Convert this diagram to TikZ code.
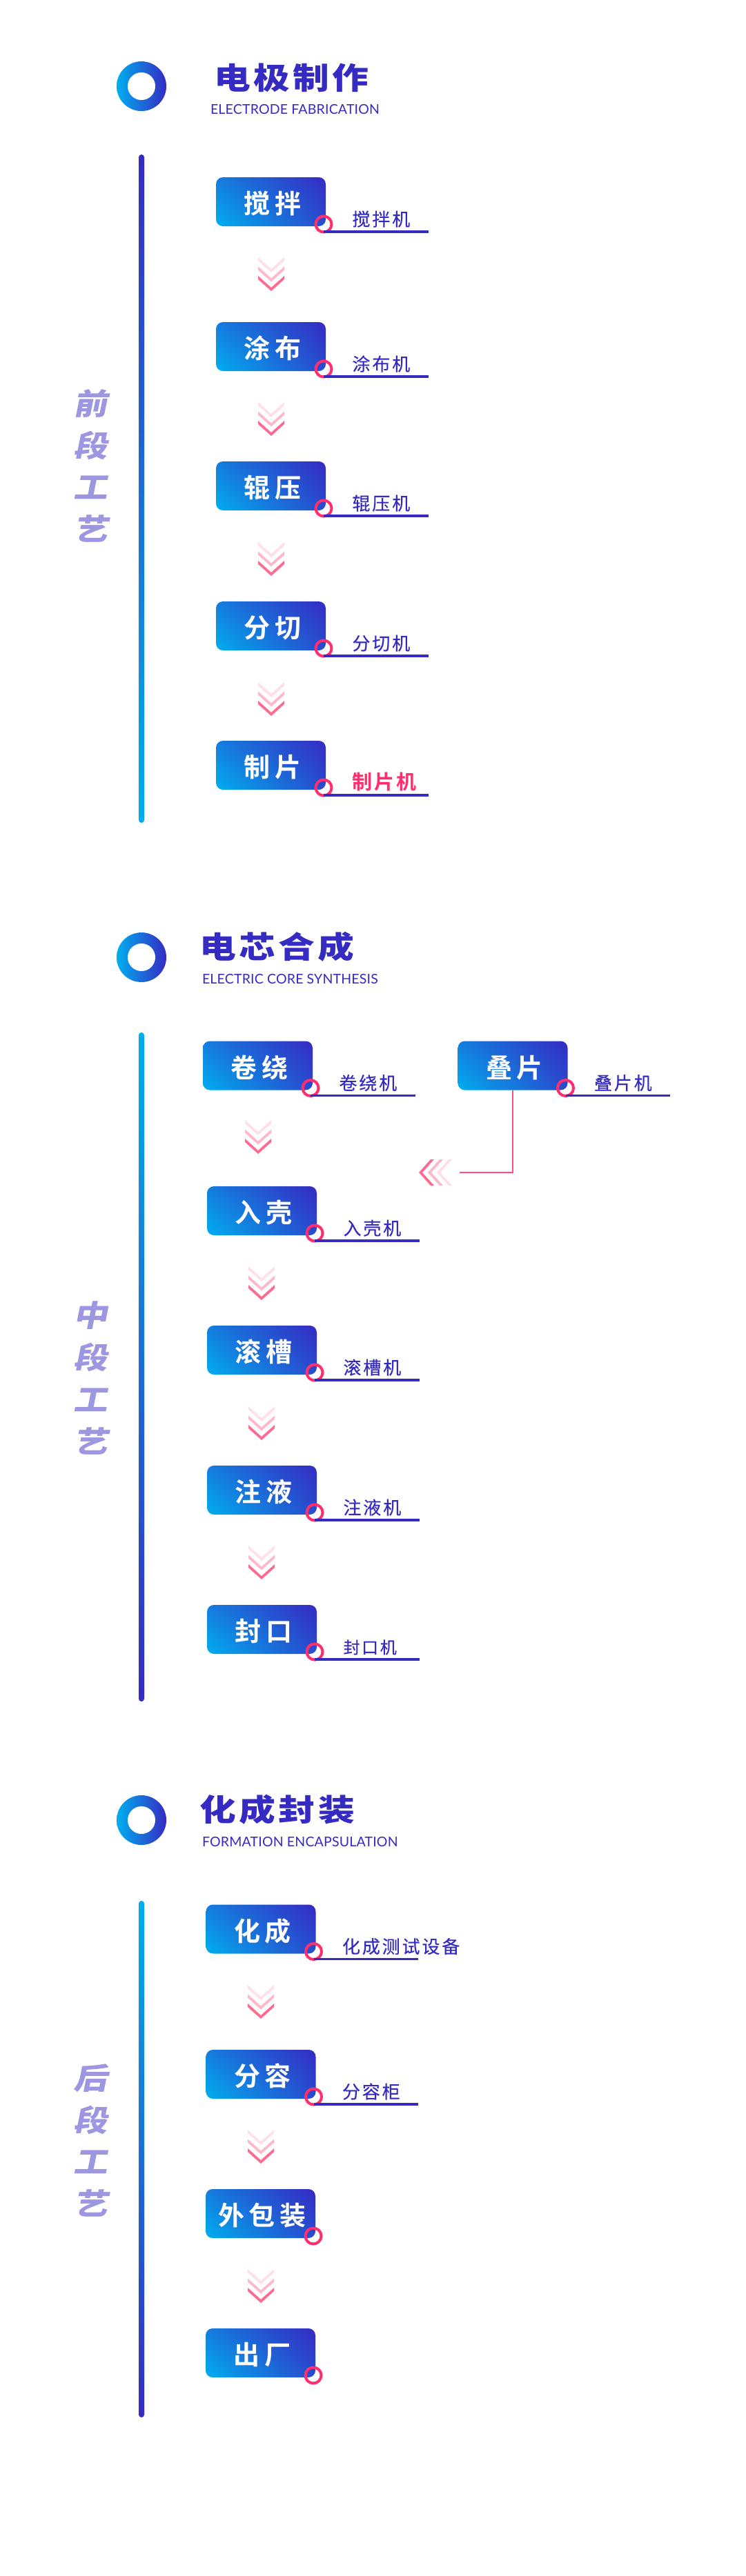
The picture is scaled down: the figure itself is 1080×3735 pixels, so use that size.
\documentclass[tikz,border=0pt]{standalone}
\usetikzlibrary{shadings}
\usepackage{fontspec}
\setmainfont{Noto Sans CJK SC}
\newfontfamily\heavyf[FakeStretch=1.2,LetterSpace=10]{Noto Sans CJK SC Black}
\newfontfamily\sidef[FakeStretch=1.15,FakeSlant=0.2]{Noto Sans CJK SC Black}
\newfontfamily\boxf[LetterSpace=16]{Noto Sans CJK SC Bold}
\newfontfamily\labf[LetterSpace=11,FakeBold=0.3]{Noto Sans CJK SC}
\newfontfamily\labbf[LetterSpace=11]{Noto Sans CJK SC Bold}
\newfontfamily\enf[LetterSpace=1]{Lato}
\definecolor{deep}{HTML}{352BC3}
\definecolor{sky}{HTML}{00AEEF}
\definecolor{pinkk}{HTML}{FF2E6C}
\definecolor{sidec}{HTML}{9D96E0}
\definecolor{ch1}{HTML}{FF6A90}
\definecolor{ch2}{HTML}{FFB8CA}
\definecolor{ch3}{HTML}{FFE0E8}
\tikzset{
  pagebox/.style={fill=white,draw=none},
  outerring/.style={circle,minimum size=72pt,inner sep=0pt,outer sep=0pt,left color=sky,right color=deep},
  innerhole/.style={circle,minimum size=40pt,inner sep=0pt,outer sep=0pt,fill=white},
  titletext/.style={anchor=west,inner sep=0pt,outer sep=0pt,text height=39pt,text depth=5pt,text=deep,font=\heavyf\fontsize{44}{50}\selectfont},
  entext/.style={anchor=west,inner sep=0pt,outer sep=0pt,text height=14pt,text depth=0pt,text=deep,font=\enf\fontsize{19.5}{22}\selectfont},
  sidetext/.style={align=center,inner sep=0pt,outer sep=0pt,text=sidec,font=\sidef\fontsize{43}{60.8}\selectfont},
  procbox/.style={rectangle,rounded corners=10pt,minimum width=159pt,minimum height=71pt,inner sep=0pt,outer sep=0pt,
    text=white,text height=39pt,text depth=5pt,font=\boxf\fontsize{38}{44}\selectfont,
    lower left=sky,upper right=deep,upper left=sky!62!deep,lower right=sky!25!deep},
  pinring/.style={circle,draw=pinkk,line width=4pt,minimum size=23pt,inner sep=0pt,outer sep=0pt},
  labeltext/.style={anchor=west,inner sep=0pt,outer sep=0pt,text=deep,text height=22pt,text depth=3pt,font=\labf\fontsize{26}{30}\selectfont},
  labelsmall/.style={labeltext,font=\labf\fontsize{24}{30}\selectfont},
  labelhot/.style={labeltext,text=pinkk,font=\labbf\fontsize{29}{30}\selectfont},
  underl/.style={draw=deep,line width=3.5pt},
  sideline/.style={draw=pinkk!85!white,line width=2pt},
  bardown/.style={rounded corners=4pt,top color=deep,bottom color=sky},
  barup/.style={rounded corners=4pt,top color=sky,bottom color=deep},
}
% id, cx, cy, text
\newcommand{\procbare}[4]{%
  \node[procbox] (#1) at (#2,#3) {#4\kern-5pt};
  \node[pinring] (#1r) at ([xshift=-3pt,yshift=3pt]#1.south east) {};
}
% id, cx, cy, text, label, label style
\newcommand{\proclab}[6]{%
  \procbare{#1}{#2}{#3}{#4}
  \coordinate (#1e) at ([xshift=148.5pt,yshift=-8pt]#1.south east);
  \draw[underl] (#1r.center |- #1e) -- (#1e);
  \node[#6] (#1l) at ([xshift=38.5pt,yshift=10pt]#1.south east) {#5};
}
% cx, tip y
\newcommand{\chevdown}[2]{%
  \foreach \off/\col in {27/ch3,13.5/ch2,0/ch1}{
    \fill[\col] (#1-19,#2-\off-22) -- (#1,#2-\off-5) -- (#1+19,#2-\off-22) -- (#1+19,#2-\off-17) -- (#1,#2-\off) -- (#1-19,#2-\off-17) -- cycle;
  }
}
\begin{document}
\begin{tikzpicture}[x=1pt,y=-1pt]
\useasboundingbox (0,0) rectangle (1080,3735);
\fill[pagebox] (0,0) rectangle (1080,3735);

% ---------- section 1
\node[outerring] (ring1) at (205,125) {};
\node[innerhole] (hole1) at (ring1) {};
\node[titletext] (title1) at (310,112) {电极制作};
\node[entext] (en1) at (305,158) {ELECTRODE FABRICATION};
\shade[bardown] (201,224) rectangle (209,1193);
\node[sidetext] (side1) at (131.5,675.5) {前\\段\\工\\艺};
\proclab{a}{392.5}{292.5}{搅拌}{搅拌机}{labeltext}
\proclab{b}{392.5}{502.5}{涂布}{涂布机}{labeltext}
\proclab{c}{392.5}{704.5}{辊压}{辊压机}{labeltext}
\proclab{d}{392.5}{907.5}{分切}{分切机}{labeltext}
\proclab{e}{392.5}{1109.5}{制片}{制片机}{labelhot}
\chevdown{393}{422}
\chevdown{393}{632}
\chevdown{393}{835}
\chevdown{393}{1038}

% ---------- section 2
\node[outerring] (ring2) at (205,1388) {};
\node[innerhole] (hole2) at (ring2) {};
\node[titletext] (title2) at (289,1372.5) {电芯合成};
\node[entext] (en2) at (293,1419) {ELECTRIC CORE SYNTHESIS};
\shade[barup] (201,1497) rectangle (209,2467);
\node[sidetext] (side2) at (131.5,1998) {中\\段\\工\\艺};
\proclab{f}{373.5}{1545}{卷绕}{卷绕机}{labeltext}
\proclab{g}{743}{1545}{叠片}{叠片机}{labeltext}
\proclab{h}{379.5}{1755.5}{入壳}{入壳机}{labeltext}
\proclab{i}{379.5}{1957.5}{滚槽}{滚槽机}{labeltext}
\proclab{j}{379.5}{2160.5}{注液}{注液机}{labeltext}
\proclab{k}{379.5}{2362.5}{封口}{封口机}{labelsmall}
\chevdown{374}{1673}
\chevdown{379}{1885}
\chevdown{379}{2088}
\chevdown{379}{2290}
\coordinate (mergeend) at (666,1700);
\draw[sideline] (g.south) |- (mergeend);
\foreach \off/\col in {26/ch3,13/ch2,0/ch1}{
  \fill[\col] (607+\off+22,1681) -- (607+\off+5,1700) -- (607+\off+22,1719) -- (607+\off+17,1719) -- (607+\off,1700) -- (607+\off+17,1681) -- cycle;
}

% ---------- section 3
\node[outerring] (ring3) at (205,2639) {};
\node[innerhole] (hole3) at (ring3) {};
\node[titletext] (title3) at (289.5,2623) {化成封装};
\node[entext] (en3) at (293,2670) {FORMATION ENCAPSULATION};
\shade[barup] (201,2756) rectangle (209,3505);
\node[sidetext] (side3) at (131.5,3103.5) {后\\段\\工\\艺};
\proclab{m}{378}{2797}{化成}{化成测试设备}{labeltext}
\proclab{n}{378}{3007.5}{分容}{分容柜}{labeltext}
\procbare{o}{377.5}{3209.5}{外包装}
\procbare{p}{377.5}{3411.5}{出厂}
\chevdown{378}{2927}
\chevdown{378}{3137}
\chevdown{378}{3339}
\end{tikzpicture}
\end{document}
